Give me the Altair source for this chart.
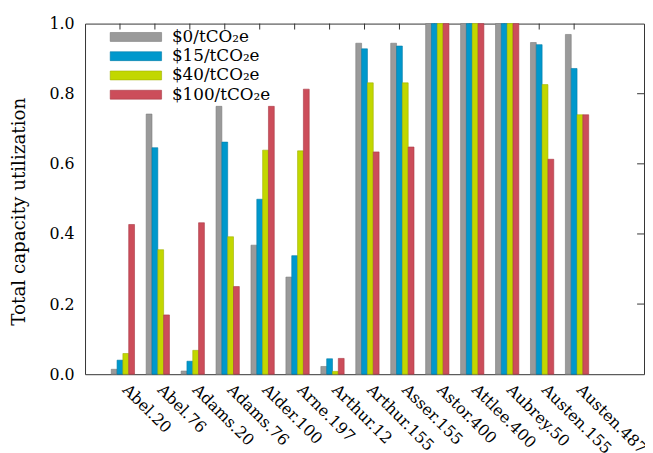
import altair as alt
import pandas as pd

categories = ["Abel.20", "Abel.76", "Adams.20", "Adams.76", "Alder.100", "Arne.197",
              "Arthur.12", "Arthur.155", "Asser.155", "Astor.400", "Attlee.400",
              "Aubrey.50", "Austen.155", "Austen.487"]
series = ["$0/tCO₂e", "$15/tCO₂e", "$40/tCO₂e", "$100/tCO₂e"]
v0 = [0.014, 0.742, 0.009, 0.764, 0.368, 0.277, 0.022, 0.944, 0.944, 1.0, 1.0, 1.0, 0.946, 0.969]
v15 = [0.040, 0.646, 0.037, 0.662, 0.499, 0.338, 0.044, 0.928, 0.936, 1.0, 1.0, 1.0, 0.940, 0.872]
v40 = [0.059, 0.355, 0.068, 0.392, 0.639, 0.637, 0.008, 0.831, 0.831, 1.0, 1.0, 1.0, 0.826, 0.740]
v100 = [0.427, 0.169, 0.432, 0.250, 0.764, 0.813, 0.045, 0.634, 0.648, 1.0, 1.0, 1.0, 0.613, 0.740]
y_ticks = [0.0, 0.2, 0.4, 0.6, 0.8, 1.0]

fills = ["#9a9a9a", "#0098cc", "#c2d700", "#cc4d5a"]
strokes = ["#7a7a7a", "#007aa6", "#9fb000", "#a83a46"]

rows = []
for s, vals in zip(series, [v0, v15, v40, v100]):
    for c, v in zip(categories, vals):
        rows.append({"category": c, "series": s, "value": v})
df = pd.DataFrame(rows)
cat_df = pd.DataFrame({"category": categories})
tick_df = pd.DataFrame({"value": y_ticks[1:-1]})

W, H = 566, 355
FONT = "DejaVu Serif"
FS = 16

x_scale = alt.Scale(domain=categories, paddingInner=0, paddingOuter=1, align=0.25)
y_scale = alt.Scale(domain=[0, 1], nice=False)

x_axis = alt.Axis(title=None, ticks=False, domain=False, labelAngle=45, labelAlign="left",
                  labelBaseline="top", labelPadding=7, labelOffset=11, labelFont=FONT,
                  labelFontSize=FS, labelColor="black", labelLimit=300)
y_axis = alt.Axis(title="Total capacity utilization", values=y_ticks, format=".1f",
                  ticks=False, domain=False, grid=False, labelPadding=11, labelFont=FONT,
                  labelFontSize=FS, labelColor="black", titleFont=FONT, titleFontSize=18.5,
                  titleFontWeight="normal", titleColor="black", titleX=-67, titleY=190,
                  titleBaseline="middle", titleAlign="center", titleAngle=270)

X = alt.X("category:N", sort=categories, scale=x_scale, axis=x_axis)
Y = alt.Y("value:Q", scale=y_scale, axis=y_axis)

top_ticks = alt.Chart(cat_df).mark_rule(color="#333333", strokeWidth=1).encode(
    x=X, y=alt.value(0), y2=alt.value(6))

right_ticks = alt.Chart(tick_df).mark_rule(color="#333333", strokeWidth=1).encode(
    y=Y, x=alt.value(W - 7), x2=alt.value(W))

bars = alt.Chart(df).mark_bar(strokeWidth=0.6).encode(
    x=X,
    xOffset=alt.XOffset("series:N", scale=alt.Scale(domain=["_"] + series,
                                                    paddingInner=0, paddingOuter=0.5)),
    y=Y,
    color=alt.Color("series:N", scale=alt.Scale(domain=series, range=fills),
                    legend=alt.Legend(title=None, orient="none", legendX=43, legendY=5,
                                      symbolType="M-5.78,-1L5.78,-1L5.78,1L-5.78,1Z",
                                      symbolSize=81, symbolStrokeWidth=0.6,
                                      symbolStrokeColor="#777777", symbolOpacity=1,
                                      labelOffset=28, rowPadding=1.5, padding=0,
                                      labelFont=FONT, labelFontSize=17, labelColor="black",
                                      labelLimit=300)),
    stroke=alt.Stroke("series:N", scale=alt.Scale(domain=series, range=strokes), legend=None),
)

chart = alt.layer(top_ticks, right_ticks, bars).properties(
    width=W, height=H,
    autosize=alt.AutoSizeParams(type="none"),
    padding={"left": 78, "top": 13, "right": 1, "bottom": 77},
).configure_view(stroke="#333333", strokeWidth=1)

chart.save("out.html", embed_options={"renderer": "svg", "actions": False})
